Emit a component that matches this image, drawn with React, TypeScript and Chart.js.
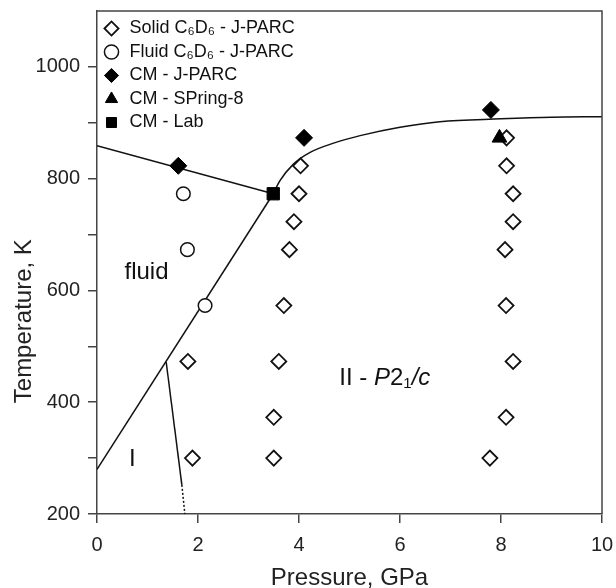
import React, { useEffect, useRef } from 'react';
import { Chart, registerables } from 'chart.js';

Chart.register(...registerables);

const FONT = "'Liberation Sans', Arial, Helvetica, sans-serif";

// Open diamonds: solid C6D6 (J-PARC)
const solidP = [1.89, 1.8, 3.5, 3.5, 3.6, 3.7, 3.81, 3.9, 4.0, 4.03, 7.78, 8.1, 8.24, 8.1, 8.08, 8.24, 8.24, 8.11, 8.11];
const solidT = [300, 473, 300, 373, 473, 573, 673, 723, 773, 823, 300, 373, 473, 573, 673, 723, 773, 823, 873];
// Open circles: fluid C6D6 (J-PARC)
const fluidP = [2.14, 1.79, 1.71];
const fluidT = [573, 673, 773];
// Filled markers
const cmJparcP = [1.61, 4.1, 7.8];
const cmJparcT = [823, 873, 923];
const cmSpringP = [7.97];
const cmSpringT = [873];
const cmLabP = [3.49];
const cmLabT = [773];

// Phase boundaries
const meltP = [0, 3.49];
const meltT = [280, 773];
const cmLeftP = [0, 3.49];
const cmLeftT = [859, 773];
const cmCurveP = [3.49, 3.62, 3.89, 4.22, 4.7, 5.21, 6.0, 6.79, 8.0, 9.0, 10.0];
const cmCurveT = [773, 796, 826, 847, 864, 877, 892, 902, 907, 910, 911];
const iiSolidP = [1.37, 1.68];
const iiSolidT = [472, 252];
const iiDotP = [1.68, 1.74];
const iiDotT = [252, 200];

// Axis ticks and titles
const xTicks = [0, 2, 4, 6, 8, 10];
const yTicks = [200, 300, 400, 500, 600, 700, 800, 900, 1000];
const yLabels = [200, 400, 600, 800, 1000];
const xTitle = 'Pressure, GPa';
const yTitle = 'Temperature, K';
const yTitleT = 545; // temperature level at which the y title is centred

// Region labels (data coordinates)
const regionText = ['fluid', 'I'];
const regionP = [0.98, 0.7];
const regionT = [632, 298];
const spaceGroupP = 5.7;
const spaceGroupT = 443;

const pts = (p: number[], t: number[]) => p.map((v, i) => ({ x: v, y: t[i] }));

export default function App() {
  const ref = useRef<HTMLCanvasElement>(null);

  useEffect(() => {
    const framePlugin = {
      id: 'frame',
      afterDatasetsDraw(chart: any) {
        const { ctx, chartArea } = chart;
        const { left, top, right, bottom } = chartArea;
        ctx.save();
        ctx.strokeStyle = '#444';
        ctx.lineWidth = 1.5;
        ctx.beginPath();
        ctx.moveTo(left, top);
        ctx.lineTo(right, top);
        ctx.lineTo(right, bottom);
        ctx.stroke();
        ctx.restore();
      },
    };

    const labelPlugin = {
      id: 'regionLabels',
      afterDatasetsDraw(chart: any) {
        const { ctx, scales } = chart;
        const xs = scales.x;
        const ys = scales.y;
        ctx.save();
        ctx.fillStyle = '#111';
        ctx.textBaseline = 'middle';
        ctx.textAlign = 'center';
        ctx.font = `24px ${FONT}`;
        regionText.forEach((t, i) => {
          ctx.fillText(t, xs.getPixelForValue(regionP[i]), ys.getPixelForValue(regionT[i]));
        });
        const parts: { text: string; font: string; dy: number }[] = [
          { text: 'II - ', font: `24px ${FONT}`, dy: 0 },
          { text: 'P', font: `italic 24px ${FONT}`, dy: 0 },
          { text: '2', font: `24px ${FONT}`, dy: 0 },
          { text: '1', font: `15px ${FONT}`, dy: 6 },
          { text: '/c', font: `italic 24px ${FONT}`, dy: 0 },
        ];
        let total = 0;
        parts.forEach((p) => {
          ctx.font = p.font;
          total += ctx.measureText(p.text).width;
        });
        let cx = xs.getPixelForValue(spaceGroupP) - total / 2;
        const cy = ys.getPixelForValue(spaceGroupT);
        ctx.textAlign = 'left';
        parts.forEach((p) => {
          ctx.font = p.font;
          ctx.fillText(p.text, cx, cy + p.dy);
          cx += ctx.measureText(p.text).width;
        });
        // y-axis title
        ctx.fillStyle = '#222';
        ctx.font = `24px ${FONT}`;
        ctx.textAlign = 'center';
        ctx.translate(24, ys.getPixelForValue(yTitleT));
        ctx.rotate(-Math.PI / 2);
        ctx.fillText(yTitle, 0, 0);
        ctx.restore();
      },
    };

    const lineDs = (label: string, p: number[], t: number[], extra: any = {}) => ({
      label,
      data: pts(p, t),
      showLine: true,
      pointRadius: 0,
      borderColor: '#111',
      borderWidth: 1.5,
      backgroundColor: '#111',
      fill: false,
      order: 5,
      ...extra,
    });

    const chart = new Chart(ref.current as HTMLCanvasElement, {
      type: 'scatter',
      data: {
        datasets: [
          {
            label: 'Solid C₆D₆ - J-PARC',
            data: pts(solidP, solidT),
            pointStyle: 'rectRot',
            pointRadius: 7.5,
            backgroundColor: '#fff',
            borderColor: '#111',
            borderWidth: 1.8,
            order: 2,
          },
          {
            label: 'Fluid C₆D₆ - J-PARC',
            data: pts(fluidP, fluidT),
            pointStyle: 'circle',
            pointRadius: 6.8,
            backgroundColor: '#fff',
            borderColor: '#111',
            borderWidth: 1.5,
            order: 2,
          },
          {
            label: 'CM - J-PARC',
            data: pts(cmJparcP, cmJparcT),
            pointStyle: 'rectRot',
            pointRadius: 8.5,
            backgroundColor: '#000',
            borderColor: '#000',
            borderWidth: 1,
            order: 1,
          },
          {
            label: 'CM - SPring-8',
            data: pts(cmSpringP, cmSpringT),
            pointStyle: 'triangle',
            pointRadius: 8.5,
            backgroundColor: '#000',
            borderColor: '#000',
            borderWidth: 1,
            order: 0,
          },
          {
            label: 'CM - Lab',
            data: pts(cmLabP, cmLabT),
            pointStyle: 'rect',
            pointRadius: 8.7,
            backgroundColor: '#000',
            borderColor: '#000',
            borderWidth: 1,
            order: 1,
          },
          lineDs('melt', meltP, meltT),
          lineDs('cmLeft', cmLeftP, cmLeftT),
          lineDs('cmCurve', cmCurveP, cmCurveT, { tension: 0.4, cubicInterpolationMode: 'monotone' }),
          lineDs('iiSolid', iiSolidP, iiSolidT),
          lineDs('iiDot', iiDotP, iiDotT, { borderDash: [2, 2], borderWidth: 1.5 }),
        ],
      },
      options: {
        animation: false,
        responsive: true,
        maintainAspectRatio: false,
        events: [],
        layout: { padding: { left: 0, top: 11, right: 14, bottom: 0 } },
        plugins: {
          tooltip: { enabled: false },
          legend: {
            position: 'chartArea',
            align: 'start',
            title: { display: true, text: ' ', font: { size: 2, lineHeight: 1 }, padding: { top: 6, bottom: 6 } },
            labels: {
              usePointStyle: true,
              boxWidth: 18,
              boxHeight: 10,
              padding: 5.5,
              color: '#111',
              font: { size: 18, family: FONT },
              filter: (item: any) => item.datasetIndex < 5,
              sort: (a: any, b: any) => a.datasetIndex - b.datasetIndex,
            },
          },
        },
        scales: {
          x: {
            type: 'linear',
            min: 0,
            max: 10,
            afterBuildTicks: (s: any) => {
              s.ticks = xTicks.map((v) => ({ value: v }));
            },
            afterFit: (s: any) => {
              s.height = 74;
              s.paddingLeft = 0;
              s.paddingRight = 0;
            },
            ticks: { font: { size: 20, family: FONT }, color: '#222', padding: 10 },
            grid: { drawOnChartArea: false, drawTicks: true, tickLength: 9, color: '#444', lineWidth: 1.5 },
            border: { display: true, color: '#444', width: 1.5 },
            title: {
              display: true,
              text: xTitle,
              color: '#222',
              font: { size: 24, family: FONT, lineHeight: 1 },
              padding: { top: 0, bottom: -2 },
            },
          },
          y: {
            type: 'linear',
            min: 200,
            max: 1100,
            afterBuildTicks: (s: any) => {
              s.ticks = yTicks.map((v) => ({ value: v }));
            },
            afterFit: (s: any) => {
              s.width = 97;
              s.paddingTop = 0;
              s.paddingBottom = 0;
            },
            ticks: {
              font: { size: 20, family: FONT },
              color: '#222',
              padding: 8,
              callback: (v: any) => (yLabels.includes(Number(v)) ? String(v) : ''),
            },
            grid: { drawOnChartArea: false, drawTicks: true, tickLength: 9, color: '#444', lineWidth: 1.5 },
            border: { display: true, color: '#444', width: 1.5 },
            title: { display: false, text: yTitle },
          },
        },
      },
      plugins: [framePlugin, labelPlugin],
    } as any);

    return () => chart.destroy();
  }, []);

  return (
    <div style={{ position: 'absolute', left: 0, top: 0, width: 616, height: 588, background: '#fff' }}>
      <canvas ref={ref} />
    </div>
  );
}
